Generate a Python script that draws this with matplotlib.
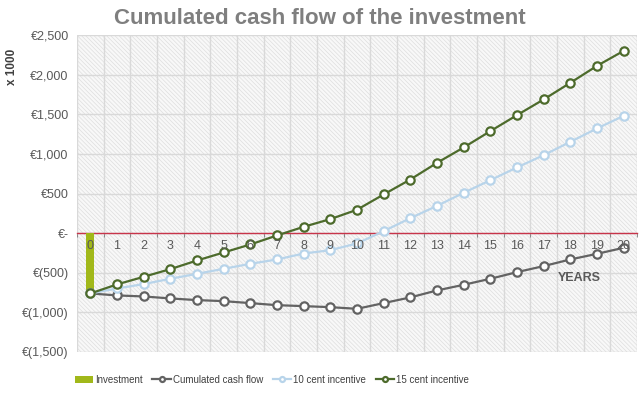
import matplotlib.pyplot as plt
from matplotlib.patches import Rectangle
from matplotlib.ticker import FuncFormatter
import numpy as np

plt.rcParams['font.family'] = ['Liberation Sans', 'DejaVu Sans']
plt.rcParams['hatch.color'] = '#dedede'
plt.rcParams['hatch.linewidth'] = 0.5

# data (x 1000 euro)
years = list(range(21))
investment = [-761]
cash_flow = [-761, -786, -799, -824, -845, -858, -883, -909, -921, -934, -955,
             -883, -811, -723, -652, -576, -492, -416, -332, -261, -185]
cent10 = [-761, -698, -643, -576, -513, -450, -387, -332, -257, -215, -130,
          25, 189, 344, 509, 668, 829, 984, 1152, 1321, 1480]
cent15 = [-761, -647, -551, -454, -345, -244, -143, -29, 80, 177, 295,
          488, 677, 887, 1081, 1287, 1489, 1687, 1897, 2111, 2300]
yticks = [-1500, -1000, -500, 0, 500, 1000, 1500, 2000, 2500]

fig = plt.figure(figsize=(6.44, 3.94), dpi=100)
ax = fig.add_axes([0.1196, 0.1066, 0.8694, 0.8044])

# hatched background
ax.add_patch(Rectangle((0, 0), 1, 1, transform=ax.transAxes, facecolor='#f8f8f8',
                       edgecolor='#dedede', hatch='\\\\\\\\\\\\\\\\', lw=0, zorder=0))

ax.set_xlim(-0.5, 20.5)
ax.set_ylim(-1500, 2500)

# grid
ax.set_yticks(yticks)
ax.set_xticks(years)
ax.set_xticks(np.arange(-0.5, 20.6, 1), minor=True)
ax.grid(True, which='major', axis='y', color='#d9d9d9', lw=1, zorder=1)
ax.grid(True, which='minor', axis='x', color='#d9d9d9', lw=1, zorder=1)
ax.set_axisbelow(True)


def euro(v, pos):
    if v == 0:
        return '€-'
    if v < 0:
        return '€({:,.0f})'.format(-v)
    return '€{:,.0f}'.format(v)


ax.yaxis.set_major_formatter(FuncFormatter(euro))
ax.tick_params(axis='y', length=0, labelsize=9, colors='#595959', pad=6)
ax.tick_params(axis='x', which='major', length=0, labelbottom=False)
ax.tick_params(axis='x', which='minor', length=3, color='#7a7a7a', direction='out')

# year labels on top of the marks
for yr in years:
    ax.annotate(str(yr), (yr, 0), xytext=(0, -5), textcoords='offset points',
                ha='center', va='top', fontsize=9, color='#595959', zorder=6)

for s in ['top', 'right', 'left']:
    ax.spines[s].set_visible(False)
ax.spines['bottom'].set_position(('data', 0))
ax.spines['bottom'].set_color('#c8344a')
ax.spines['bottom'].set_linewidth(1)
ax.spines['bottom'].set_zorder(2)

ax.bar([0], investment, width=0.3, color='#a1b81a', zorder=3, label='Investment')
mk = dict(marker='o', markersize=6, markerfacecolor='white', markeredgewidth=1.6, lw=1.6, zorder=4)
ax.plot(years, cash_flow, color='#636363', label='Cumulated cash flow', **mk)
ax.plot(years, cent10, color='#b8d4ea', label='10 cent incentive', **mk)
ax.plot(years, cent15, color='#4d6b2c', label='15 cent incentive', **mk)

ax.text(0.898, 0.233, 'YEARS', transform=ax.transAxes, ha='center', va='center',
        fontsize=9, fontweight='bold', color='#595959')

fig.text(0.018, 0.83, 'x 1000', rotation=90, ha='center', va='center',
         fontsize=8.5, fontweight='bold', color='#404040')
fig.suptitle('Cumulated cash flow of the investment', x=0.497, y=0.98, va='top',
             fontsize=16, fontweight='bold', color='#7f7f7f')

handles, labels = ax.get_legend_handles_labels()
order = [3, 0, 1, 2]
ax.legend([handles[i] for i in order], [labels[i] for i in order],
          loc='center', bbox_to_anchor=(0.422, 0.036), bbox_transform=fig.transFigure,
          ncol=4, frameon=False, fontsize=7, handlelength=1.9, handletextpad=0.2,
          columnspacing=1.0, labelcolor='#404040', markerscale=0.6)

fig.savefig('out.png', dpi=100)
